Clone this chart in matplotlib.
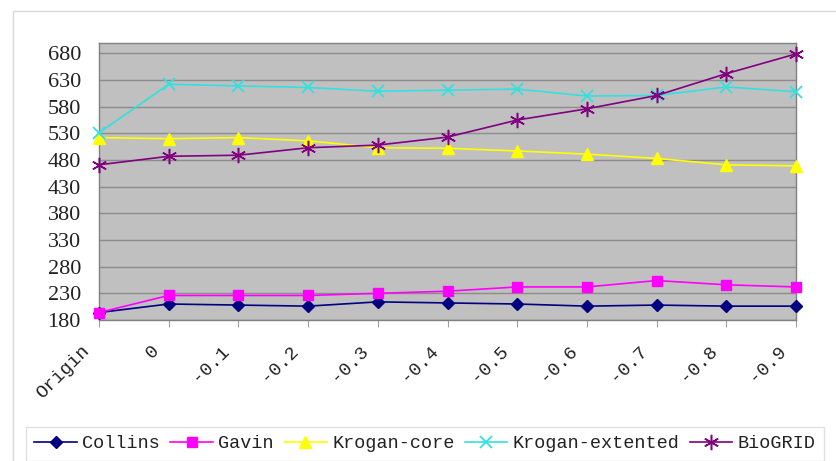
import numpy as np
import matplotlib.pyplot as plt
from matplotlib.patches import Rectangle
from matplotlib.transforms import ScaledTranslation

# data
categories = ["Origin", "0", "-0.1", "-0.2", "-0.3", "-0.4",
              "-0.5", "-0.6", "-0.7", "-0.8", "-0.9"]
collins = [194, 210, 208, 206, 214, 212, 210, 206, 208, 206, 206]
gavin = [194, 226, 226, 226, 230, 234, 242, 242, 254, 246, 242]
krogan_core = [522, 520, 522, 516, 503, 502, 497, 491, 483, 471, 469]
krogan_ext = [531, 622, 619, 616, 609, 611, 613, 600, 601, 617, 608]
biogrid = [471, 487, 489, 503, 508, 523, 555, 576, 601, 642, 679]
yticks = np.arange(180, 681, 50)

fig = plt.figure(figsize=(8.36, 4.61), dpi=100)
fig.patch.set_facecolor("white")

# light outer frame of the chart area (runs off right/bottom edge)
fig.patches.append(Rectangle((13 / 836, -0.1), 1.2, 1 - 11 / 461 + 0.1,
                             transform=fig.transFigure, fill=False,
                             edgecolor="#d9d9d9", linewidth=1.0))

ax = fig.add_axes([99 / 836, 1 - 320 / 461, (796 - 99) / 836, (320 - 42.7) / 461])
ax.set_facecolor("#c0c0c0")

x = np.arange(len(categories))
series = [
    ("Collins", collins, "#000080", dict(marker="D", ms=6.5, mec="#000080", mfc="#000080")),
    ("Gavin", gavin, "#ff00ff", dict(marker="s", ms=7.5, mec="#ff00ff", mfc="#ff00ff")),
    ("Krogan-core", krogan_core, "#ffff00", dict(marker="^", ms=9, mec="#ffff00", mfc="#ffff00")),
    ("Krogan-extented", krogan_ext, "#33e0e0", dict(marker="x", ms=9, mew=1.3, mec="#33e0e0")),
    ("BioGRID", biogrid, "#800080", dict(marker=(6, 2, 0), ms=11, mew=1.1, mec="#800080")),
]
for name, vals, col, mk in series:
    ax.plot(x, vals, color=col, lw=1.2, label=name, clip_on=False, zorder=3, **mk)

ax.set_xlim(0, len(categories) - 1)
ax.set_ylim(180, 700)
ax.set_yticks(yticks)
ax.yaxis.grid(True, color="#8c8c8c", lw=1.0)
ax.set_axisbelow(True)
ax.tick_params(axis="y", length=0, pad=13, labelsize=16)
for t in ax.get_yticklabels():
    t.set_fontfamily("Liberation Serif")
    t.set_color("#222222")

ax.set_xticks(x)
ax.set_xticklabels(categories, rotation=45, ha="right", va="top",
                   rotation_mode="anchor", fontfamily="Liberation Mono",
                   fontsize=13.5, color="#222222")
ax.tick_params(axis="x", length=5, color="#a0a0a0", pad=11)
shift = ScaledTranslation(-18 / 100, 0, fig.dpi_scale_trans)
for t in ax.get_xticklabels():
    t.set_transform(t.get_transform() + shift)

for s in ax.spines.values():
    s.set_color("#808080")
    s.set_linewidth(1.0)

leg = fig.legend(loc="upper left", bbox_to_anchor=(26 / 836, 1 - 427 / 461),
                 ncol=5, frameon=True, fancybox=False, borderaxespad=0,
                 prop={"family": "Liberation Mono", "size": 13.3},
                 handlelength=2.3, handletextpad=0.3, columnspacing=0.55,
                 borderpad=0.45)
leg.get_frame().set_edgecolor("#d9d9d9")
leg.get_frame().set_linewidth(1.0)
for t in leg.get_texts():
    t.set_color("#222222")

fig.savefig("out.png", dpi=100)
